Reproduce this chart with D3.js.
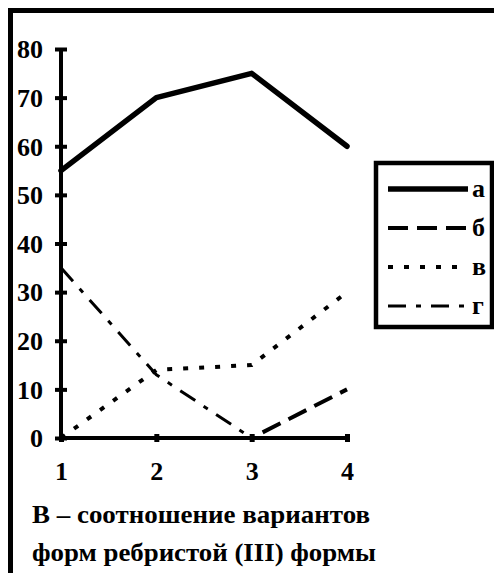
<!doctype html>
<html>
<head>
<meta charset="utf-8">
<style>
    body { margin: 0; background: #fff; }
    text { font-family: "Liberation Serif", "Times New Roman", serif; font-weight: bold; fill: #000; }
</style>
<script src="https://d3js.org/d3.v7.min.js"></script>
</head>
<body>
<svg width="494" height="573" id="chart"></svg>
<script>
    // data
    var categories = [1, 2, 3, 4];
    var seriesA = [55, 70, 75, 60];
    var seriesB = [0, 0, 0, 10];
    var seriesV = [0, 14, 15, 30];
    var seriesG = [35, 13, 0, 0];
    var yTicks = [0, 10, 20, 30, 40, 50, 60, 70, 80];
    var legendLabels = ["а", "б", "в", "г"];
    var captionLines = ["В – соотношение вариантов", "форм ребристой (III) формы"];

    var series = [
        { name: legendLabels[0], values: seriesA, width: 5.5, dash: null, cap: "round" },
        { name: legendLabels[1], values: seriesB, width: 4, dash: "20,9", cap: "butt" },
        { name: legendLabels[2], values: seriesV, width: 4, dash: "5,11", cap: "butt" },
        { name: legendLabels[3], values: seriesG, width: 3, dash: "18,10,5,10", cap: "butt" }
    ];

    var svg = d3.select("#chart");

    // page frame (left and top edges)
    svg.append("path")
       .attr("d", "M10.5,573 V10.5 H494")
       .attr("fill", "none")
       .attr("stroke", "#000")
       .attr("stroke-width", 5);

    var xScale = d3.scalePoint().domain(categories).range([61, 347]);
    var yScale = d3.scaleLinear().domain([0, 80]).range([438, 49]);

    // y axis
    var yAxis = svg.append("g")
       .attr("transform", "translate(61,0)")
       .call(d3.axisLeft(yScale).tickValues(yTicks).tickSize(6).tickPadding(12));
    yAxis.select(".domain").attr("d", "M0," + yScale(0) + "V" + yScale(80))
         .attr("stroke-width", 4);
    yAxis.selectAll(".tick line").attr("x1", -6).attr("x2", 6).attr("stroke-width", 4);
    yAxis.selectAll(".tick text").style("font-size", "26px").attr("dy", "0.34em");

    // x axis
    var xAxis = svg.append("g")
       .attr("transform", "translate(0," + yScale(0) + ")")
       .call(d3.axisBottom(xScale).tickSize(4).tickPadding(20));
    xAxis.select(".domain").attr("d", "M" + xScale(1) + ",0H" + xScale(4))
         .attr("stroke-width", 4);
    xAxis.selectAll(".tick line").attr("y1", -4).attr("y2", 4).attr("stroke-width", 5);
    xAxis.selectAll(".tick text").style("font-size", "26px").attr("dy", "0.71em");

    // lines
    var line = d3.line()
        .x(function(d, i) { return xScale(categories[i]); })
        .y(function(d) { return yScale(d); });

    svg.selectAll(".series")
       .data(series)
       .enter().append("path")
       .attr("class", "series")
       .attr("d", function(d) { return line(d.values); })
       .attr("fill", "none")
       .attr("stroke", "#000")
       .attr("stroke-width", function(d) { return d.width; })
       .attr("stroke-dasharray", function(d) { return d.dash; })
       .attr("stroke-linecap", function(d) { return d.cap; })
       .attr("stroke-linejoin", "round");

    // legend
    var legend = svg.append("g");
    legend.append("rect")
          .attr("x", 376).attr("y", 163)
          .attr("width", 116).attr("height", 164)
          .attr("fill", "#fff")
          .attr("stroke", "#000")
          .attr("stroke-width", 4.5);

    var rowY = d3.scalePoint().domain(legendLabels).range([189, 306]);

    var rows = legend.selectAll(".row")
        .data(series)
        .enter().append("g")
        .attr("class", "row")
        .attr("transform", function(d) { return "translate(0," + rowY(d.name) + ")"; });
    rows.append("line")
        .attr("x1", 388).attr("x2", 468)
        .attr("stroke", "#000")
        .attr("stroke-width", function(d) { return d.width; })
        .attr("stroke-dasharray", function(d) { return d.dash; });
    rows.append("text")
        .attr("x", 472)
        .attr("y", 8)
        .style("font-size", "26px")
        .text(function(d) { return d.name; });

    // caption, stretched to the width it has in the scan
    var captionWidths = [338, 344];
    svg.selectAll(".caption")
       .data(captionLines)
       .enter().append("text")
       .attr("class", "caption")
       .attr("x", 32)
       .attr("y", function(d, i) { return 523 + i * 38; })
       .attr("textLength", function(d, i) { return captionWidths[i]; })
       .attr("lengthAdjust", "spacingAndGlyphs")
       .style("font-size", "26px")
       .text(function(d) { return d; });
</script>
</body>
</html>
